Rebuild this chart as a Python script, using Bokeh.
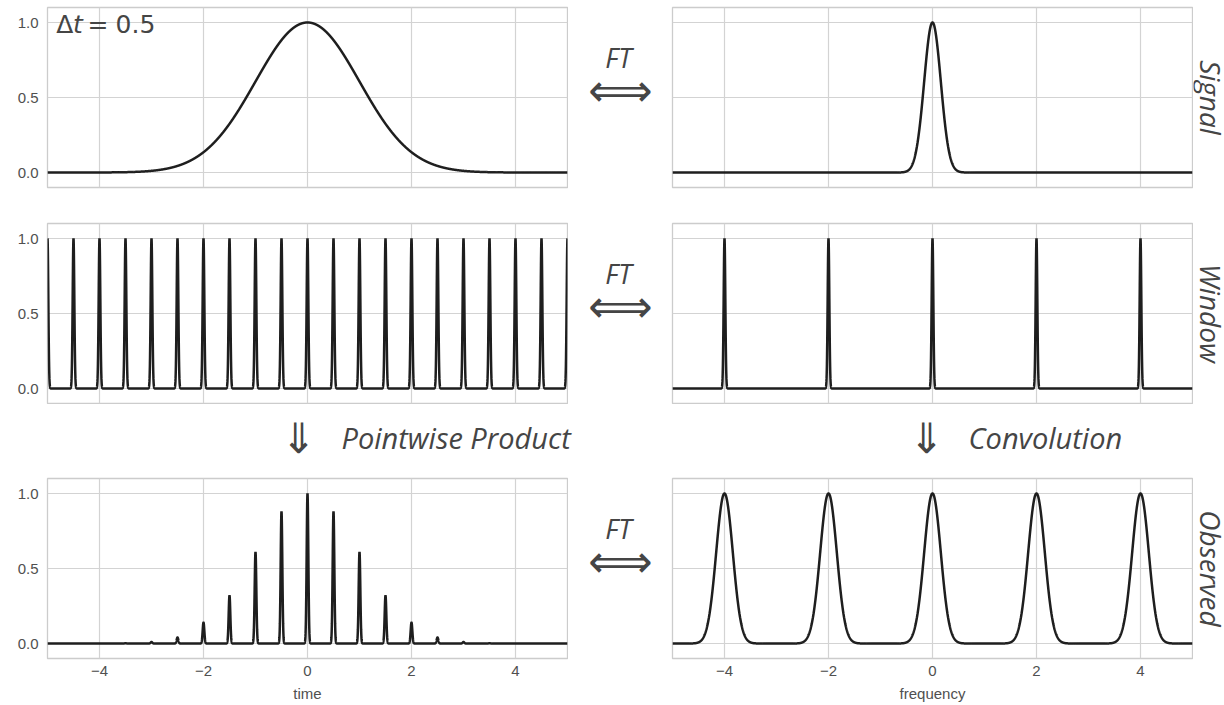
import numpy as np
from bokeh.plotting import figure
from bokeh.layouts import row, column
from bokeh.models import Range1d, FixedTicker, Label
from bokeh.embed import file_html
from bokeh.resources import INLINE

# ---------------- data ----------------
x_ticks = [-4, -2, 0, 2, 4]
x_tick_labels = ["\u22124", "\u22122", "0", "2", "4"]
y_ticks = [0.0, 0.5, 1.0]
y_tick_labels = ["0.0", "0.5", "1.0"]

# time domain
signal_centers = [0.0]
signal_heights = [1.0]
signal_width = 1.0            # sigma of the time-domain signal

sample_times = [-5.0, -4.5, -4.0, -3.5, -3.0, -2.5, -2.0, -1.5, -1.0, -0.5, 0.0,
                0.5, 1.0, 1.5, 2.0, 2.5, 3.0, 3.5, 4.0, 4.5, 5.0]
window_heights = [1.0] * 21
observed_heights = [0.0, 0.0, 0.0, 0.002, 0.01, 0.04, 0.14, 0.32, 0.61, 0.88, 1.0,
                    0.88, 0.61, 0.32, 0.14, 0.04, 0.01, 0.002, 0.0, 0.0, 0.0]
spike_width = 0.016

# frequency domain
ft_signal_centers = [0.0]
ft_signal_heights = [1.0]
ft_width = 0.16
ft_window_centers = [-4.0, -2.0, 0.0, 2.0, 4.0]
ft_window_heights = [1.0, 1.0, 1.0, 1.0, 1.0]
ft_observed_centers = [-4.0, -2.0, 0.0, 2.0, 4.0]
ft_observed_heights = [1.0, 1.0, 1.0, 1.0, 1.0]

row_names = ["Signal", "Window", "Observed"]

# ---------------- helpers ----------------
grid_x = np.linspace(-5, 5, 8001)


def peaks(centers, heights, width):
    y = np.zeros_like(grid_x)
    for c, h in zip(centers, heights):
        y += h * np.exp(-0.5 * ((grid_x - c) / width) ** 2)
    return y


LINE_COLOR = "#1e1e1e"
LINE_W = 2.5
TEXT_COLOR = "#454545"
TICK_COLOR = "#505050"

LB, FW, FH = 47, 520, 180
MID_W = 103
LAB_W = 31


def make_panel(left, top_b, bottom_b, show_x, xlabel=None):
    if left:
        w = LB + FW + 1
        mbl, mbr = LB, 1
    else:
        w = 1 + FW + 1
        mbl, mbr = 1, 1
    h = top_b + FH + bottom_b
    p = figure(width=w, height=h, x_range=Range1d(-5, 5), y_range=Range1d(-0.1, 1.1),
               output_backend="svg", toolbar_location=None,
               min_border_left=mbl, min_border_right=mbr,
               min_border_top=top_b, min_border_bottom=bottom_b)
    p.background_fill_color = "white"
    p.border_fill_color = "white"
    p.outline_line_color = "#cccccc"
    p.outline_line_width = 1.3
    p.xgrid.ticker = FixedTicker(ticks=x_ticks)
    p.ygrid.ticker = FixedTicker(ticks=y_ticks)
    p.grid.grid_line_color = "#d3d3d3"
    p.grid.grid_line_width = 1.2

    p.xaxis.ticker = FixedTicker(ticks=x_ticks)
    p.xaxis.major_label_overrides = dict(zip(x_ticks, x_tick_labels))
    p.yaxis.ticker = FixedTicker(ticks=y_ticks)
    p.yaxis.major_label_overrides = dict(zip(y_ticks, y_tick_labels))
    for ax in (p.xaxis, p.yaxis):
        ax.axis_line_color = None
        ax.major_tick_line_color = None
        ax.minor_tick_line_color = None
        ax.major_tick_out = 0
        ax.major_tick_in = 0
        ax.minor_tick_out = 0
        ax.major_label_text_font = "Liberation Sans"
        ax.major_label_text_font_size = "15px"
        ax.major_label_text_color = TICK_COLOR
    p.yaxis.major_label_standoff = 9
    p.xaxis.major_label_standoff = 7
    p.xaxis.visible = show_x
    p.yaxis.visible = left
    if xlabel:
        p.xaxis.axis_label = xlabel
        p.xaxis.axis_label_text_font = "Liberation Sans"
        p.xaxis.axis_label_text_font_style = "normal"
        p.xaxis.axis_label_text_font_size = "15px"
        p.xaxis.axis_label_text_color = TICK_COLOR
        p.xaxis.axis_label_standoff = 6
    return p


def spacer(width, height, xr, yr, top_b=0, bottom_b=0):
    p = figure(width=width, height=height, x_range=Range1d(*xr), y_range=Range1d(*yr),
               output_backend="svg", toolbar_location=None,
               min_border_left=0, min_border_right=0,
               min_border_top=top_b, min_border_bottom=bottom_b)
    p.outline_line_color = None
    p.background_fill_color = "white"
    p.border_fill_color = "white"
    p.axis.visible = False
    p.grid.visible = False
    return p


def txt(p, text, x, y, size="26px", align="left", angle=0,
        baseline="middle", font="Open Sans", style="italic"):
    p.add_layout(Label(x=x, y=y, text=text, text_font=font,
                       text_font_style=style, text_font_size=size, text_color=TEXT_COLOR,
                       text_align=align, text_baseline=baseline, angle=angle))


borders = [(7, 35), (1, 1), (1, 46)]
rows = []
panels = []
for r in range(3):
    tb, bb = borders[r]
    show_x = (r == 2)
    pl = make_panel(True, tb, bb, show_x, "time" if show_x else None)
    pm = spacer(MID_W, tb + FH + bb, (0, MID_W), (-0.1, 1.1), tb, bb)
    pr = make_panel(False, tb, bb, show_x, "frequency" if show_x else None)
    plab = spacer(LAB_W, tb + FH + bb, (0, LAB_W), (-0.1, 1.1), tb, bb)
    # FT and double arrow between the panels
    txt(pm, "FT", 50, 0.77, size="27px", align="center")
    txt(pm, "\u27fa", 52, 0.55, size="45px", align="center", font="DejaVu Sans", style="normal")
    # row name at the right, rotated (reads top to bottom)
    txt(plab, row_names[r], 17, 0.5, size="28px", align="center", angle=-np.pi / 2,
        baseline="middle")
    panels.append((pl, pr))
    rows.append(row(pl, pm, pr, plab))

# curves
(p1l, p1r), (p2l, p2r), (p3l, p3r) = panels
p1l.line(grid_x, peaks(signal_centers, signal_heights, signal_width), line_color=LINE_COLOR, line_width=LINE_W)
p1r.line(grid_x, peaks(ft_signal_centers, ft_signal_heights, ft_width), line_color=LINE_COLOR, line_width=LINE_W)
p2l.line(grid_x, peaks(sample_times, window_heights, spike_width), line_color=LINE_COLOR, line_width=LINE_W)
p2r.line(grid_x, peaks(ft_window_centers, ft_window_heights, spike_width), line_color=LINE_COLOR, line_width=LINE_W)
p3l.line(grid_x, peaks(sample_times, observed_heights, spike_width), line_color=LINE_COLOR, line_width=LINE_W)
p3r.line(grid_x, peaks(ft_observed_centers, ft_observed_heights, ft_width), line_color=LINE_COLOR, line_width=LINE_W)

# Delta t label (math-style: upright Delta, oblique t)
txt(p1l, "\u0394", -4.83, 0.99, size="25px", font="DejaVu Sans", style="normal")
txt(p1l, "t", -4.51, 0.99, size="25px", font="DejaVu Sans", style="italic")
txt(p1l, "=", -4.23, 0.99, size="25px", font="DejaVu Sans", style="normal")
txt(p1l, "0.5", -3.69, 0.99, size="25px", font="DejaVu Sans", style="normal")

# strip between the window row and the observed row
STRIP_W, STRIP_H = 1224, 73
strip = spacer(STRIP_W, STRIP_H, (0, STRIP_W), (0, STRIP_H))
txt(strip, "\u21d3", 298, 39, size="42px", align="center", font="DejaVu Sans", style="normal")
txt(strip, "Pointwise Product", 341, 40, size="29px")
txt(strip, "\u21d3", 926, 39, size="42px", align="center", font="DejaVu Sans", style="normal")
txt(strip, "Convolution", 968, 40, size="29px")

layout = column(rows[0], rows[1], strip, rows[2])

with open("out.html", "w") as f:
    f.write(file_html(layout, INLINE))
